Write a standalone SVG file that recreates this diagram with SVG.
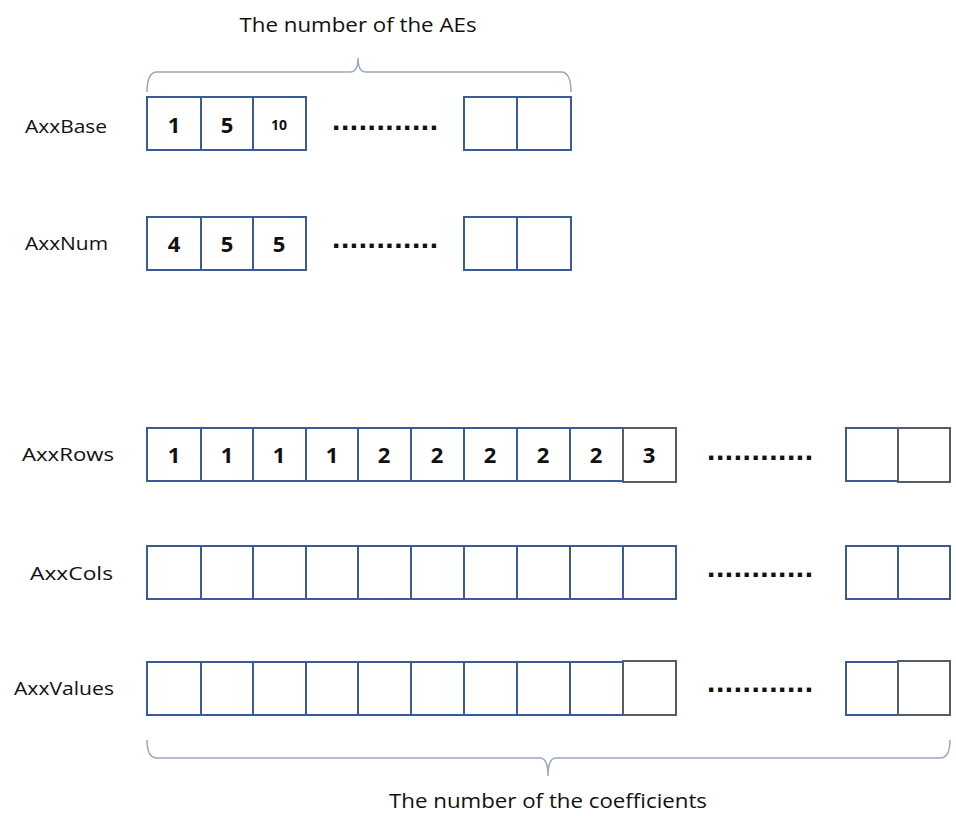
<svg xmlns="http://www.w3.org/2000/svg" width="956" height="816" viewBox="0 0 956 816">
<style>
.c{fill:#fff;stroke:#3b5a9a;stroke-width:2}
.c2{fill:#fff;stroke:#555d6a;stroke-width:2}
.lbl{font-family:"Open Sans","Liberation Sans",Arial,sans-serif;font-size:19px;fill:#111}
.n{font-family:"Open Sans","Liberation Sans",Arial,sans-serif;font-size:22px;font-weight:bold;fill:#111;text-anchor:middle}
.d{font-family:"Liberation Sans",Arial,sans-serif;font-size:30px;font-weight:bold;fill:#111}
.br{fill:none;stroke:#9aa8bd;stroke-width:1.5}
.t{font-family:"Open Sans","Liberation Sans",Arial,sans-serif;font-size:20px;fill:#111;text-anchor:middle}
</style>
<rect width="956" height="816" fill="#fff"/>
<g id="brace-top">
<path class="br" d="M147,92 Q147,72 157,72 L350,72 Q358,72 358,58 Q358,72 366,72 L561,72 Q571,72 571,92"/>
<text class="t" x="358" y="32" textLength="237" lengthAdjust="spacingAndGlyphs">The number of the AEs</text>
</g>
<g id="AxxBase">
<text class="lbl" x="25" y="133" textLength="82" lengthAdjust="spacingAndGlyphs">AxxBase</text>
<rect class="c" x="147" y="97" width="54" height="53"/>
<rect class="c" x="201" y="97" width="52" height="53"/>
<rect class="c" x="253" y="97" width="53" height="53"/>
<rect class="c" x="464" y="97" width="53" height="53"/>
<rect class="c" x="517" y="97" width="54" height="53"/>
<text class="n" x="174" y="133">1</text>
<text class="n" x="227" y="133">5</text>
<text class="n" x="279" y="130" style="font-size:14px">10</text>
<text class="d" x="332" y="130" textLength="106" lengthAdjust="spacing">............</text>
</g>
<g id="AxxNum">
<text class="lbl" x="25" y="250" textLength="83" lengthAdjust="spacingAndGlyphs">AxxNum</text>
<rect class="c" x="147" y="217" width="54" height="53"/>
<rect class="c" x="201" y="217" width="52" height="53"/>
<rect class="c" x="253" y="217" width="53" height="53"/>
<rect class="c" x="464" y="217" width="53" height="53"/>
<rect class="c" x="517" y="217" width="54" height="53"/>
<text class="n" x="174" y="252">4</text>
<text class="n" x="227" y="252">5</text>
<text class="n" x="279" y="252">5</text>
<text class="d" x="332" y="248" textLength="106" lengthAdjust="spacing">............</text>
</g>
<g id="AxxRows">
<text class="lbl" x="22" y="461" textLength="92" lengthAdjust="spacingAndGlyphs">AxxRows</text>
<rect class="c" x="147" y="428" width="54" height="53"/>
<rect class="c" x="201" y="428" width="52" height="53"/>
<rect class="c" x="253" y="428" width="53" height="53"/>
<rect class="c" x="306" y="428" width="52" height="53"/>
<rect class="c" x="358" y="428" width="53" height="53"/>
<rect class="c" x="411" y="428" width="53" height="53"/>
<rect class="c" x="464" y="428" width="53" height="53"/>
<rect class="c" x="517" y="428" width="53" height="53"/>
<rect class="c" x="570" y="428" width="53" height="53"/>
<rect class="c2" x="623" y="428" width="53" height="54"/>
<rect class="c" x="846" y="428" width="52" height="53"/>
<rect class="c2" x="898" y="428" width="52" height="54"/>
<text class="n" x="174" y="463">1</text>
<text class="n" x="227" y="463">1</text>
<text class="n" x="279" y="463">1</text>
<text class="n" x="332" y="463">1</text>
<text class="n" x="384" y="463">2</text>
<text class="n" x="437" y="463">2</text>
<text class="n" x="490" y="463">2</text>
<text class="n" x="543" y="463">2</text>
<text class="n" x="596" y="463">2</text>
<text class="n" x="649" y="463">3</text>
<text class="d" x="707" y="460" textLength="106" lengthAdjust="spacing">............</text>
</g>
<g id="AxxCols">
<text class="lbl" x="30" y="580" textLength="83" lengthAdjust="spacingAndGlyphs">AxxCols</text>
<rect class="c" x="147" y="546" width="54" height="53"/>
<rect class="c" x="201" y="546" width="52" height="53"/>
<rect class="c" x="253" y="546" width="53" height="53"/>
<rect class="c" x="306" y="546" width="52" height="53"/>
<rect class="c" x="358" y="546" width="53" height="53"/>
<rect class="c" x="411" y="546" width="53" height="53"/>
<rect class="c" x="464" y="546" width="53" height="53"/>
<rect class="c" x="517" y="546" width="53" height="53"/>
<rect class="c" x="570" y="546" width="53" height="53"/>
<rect class="c" x="623" y="546" width="53" height="53"/>
<rect class="c" x="846" y="546" width="52" height="53"/>
<rect class="c" x="898" y="546" width="52" height="53"/>
<text class="d" x="707" y="577" textLength="106" lengthAdjust="spacing">............</text>
</g>
<g id="AxxValues">
<text class="lbl" x="14" y="695" textLength="100" lengthAdjust="spacingAndGlyphs">AxxValues</text>
<rect class="c" x="147" y="662" width="54" height="53"/>
<rect class="c" x="201" y="662" width="52" height="53"/>
<rect class="c" x="253" y="662" width="53" height="53"/>
<rect class="c" x="306" y="662" width="52" height="53"/>
<rect class="c" x="358" y="662" width="53" height="53"/>
<rect class="c" x="411" y="662" width="53" height="53"/>
<rect class="c" x="464" y="662" width="53" height="53"/>
<rect class="c" x="517" y="662" width="53" height="53"/>
<rect class="c" x="570" y="662" width="53" height="53"/>
<rect class="c2" x="623" y="661" width="53" height="54"/>
<rect class="c" x="846" y="662" width="52" height="53"/>
<rect class="c2" x="898" y="661" width="52" height="54"/>
<text class="d" x="707" y="692" textLength="106" lengthAdjust="spacing">............</text>
</g>
<g id="brace-bottom">
<path class="br" d="M147,740 Q147,758 157,758 L540,758 Q548,758 548,776 Q548,758 556,758 L940,758 Q950,758 950,740"/>
<text class="t" x="548" y="808" textLength="318" lengthAdjust="spacingAndGlyphs">The number of the coefficients</text>
</g>
</svg>
